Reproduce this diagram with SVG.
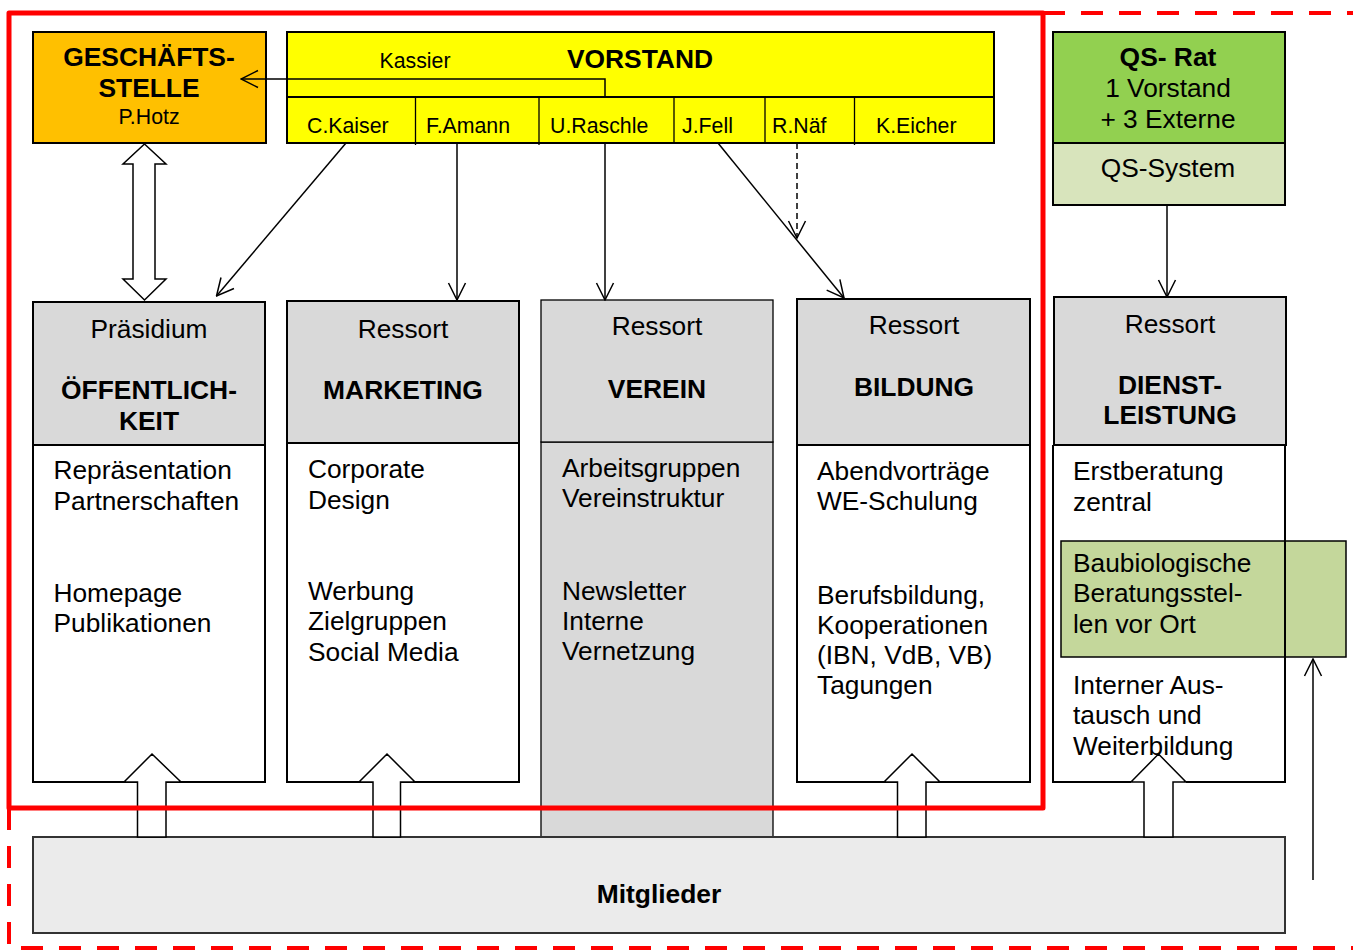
<svg xmlns="http://www.w3.org/2000/svg" width="1353" height="950" viewBox="0 0 1353 950">
<defs>
<style>
.t{font-family:"Liberation Sans",Arial,sans-serif;fill:#000}
.n{font-size:26.3px}
.b{font-size:26.4px;font-weight:bold}
.s{font-size:21.3px}
.c{text-anchor:middle}
.box{stroke:#000;stroke-width:2}
.thin{stroke:#000;stroke-width:1.3}
.conn{stroke:#000;stroke-width:1.5;fill:none}
.blk{fill:#fff;stroke:#000;stroke-width:1.5}
.hdr{fill:#D9D9D9}
</style>
<marker id="ah" markerUnits="userSpaceOnUse" markerWidth="20" markerHeight="20" viewBox="0 0 20 20" refX="19" refY="10" orient="auto">
<path d="M2,1.5 L19,10 L2,18.5" fill="none" stroke="#000" stroke-width="1.5"/>
</marker>
</defs>
<rect width="1353" height="950" fill="#fff"/>

<g id="geschaeftsstelle">
<rect x="33" y="32" width="233" height="111" fill="#FFC000" class="box"/>
<text class="t b c" x="149" y="66">GESCHÄFTS-</text>
<text class="t b c" x="149" y="97">STELLE</text>
<text class="t s c" x="149" y="123.5">P.Hotz</text>
</g>

<g id="vorstand">
<rect x="287" y="32" width="707" height="111" fill="#FFFF00" class="box"/>
<line x1="287" y1="97" x2="994" y2="97" class="box"/>
<line x1="415.5" y1="97" x2="415.5" y2="145" class="thin"/>
<line x1="539" y1="97" x2="539" y2="145" class="thin"/>
<line x1="674" y1="97" x2="674" y2="143" class="thin"/>
<line x1="765" y1="97" x2="765" y2="143" class="thin"/>
<line x1="854.5" y1="97" x2="854.5" y2="145" class="thin"/>
<text class="t s c" x="415" y="68">Kassier</text>
<text class="t b c" x="640" y="68">VORSTAND</text>
<text class="t s" x="307" y="133">C.Kaiser</text>
<text class="t s" x="426" y="133">F.Amann</text>
<text class="t s" x="550" y="133">U.Raschle</text>
<text class="t s" x="682" y="133">J.Fell</text>
<text class="t s" x="772" y="133">R.Näf</text>
<text class="t s" x="876" y="133">K.Eicher</text>
</g>

<g id="qs-rat">
<rect x="1053" y="32" width="232" height="111" fill="#92D050" class="box"/>
<rect x="1053" y="143" width="232" height="62" fill="#D8E4BC" class="box"/>
<text class="t b c" x="1168" y="66">QS- Rat</text>
<text class="t n c" x="1168" y="97">1 Vorstand</text>
<text class="t n c" x="1168" y="128">+ 3 Externe</text>
<text class="t n c" x="1168" y="177">QS-System</text>
</g>

<g id="praesidium">
<rect x="33" y="445" width="232" height="337" fill="#fff" class="box"/>
<rect x="33" y="302" width="232" height="143" class="hdr box"/>
<text class="t n c" x="149" y="338">Präsidium</text>
<text class="t b c" x="149" y="399">ÖFFENTLICH-</text>
<text class="t b c" x="149" y="429.5">KEIT</text>
<text class="t n" x="53.5" y="478.5">Repräsentation</text>
<text class="t n" x="53.5" y="510">Partnerschaften</text>
<text class="t n" x="53.5" y="602">Homepage</text>
<text class="t n" x="53.5" y="632">Publikationen</text>
</g>

<g id="marketing">
<rect x="287" y="443" width="232" height="339" fill="#fff" class="box"/>
<rect x="287" y="301" width="232" height="142" class="hdr box"/>
<text class="t n c" x="403" y="338">Ressort</text>
<text class="t b c" x="403" y="399">MARKETING</text>
<text class="t n" x="308" y="477.5">Corporate</text>
<text class="t n" x="308" y="508.5">Design</text>
<text class="t n" x="308" y="600">Werbung</text>
<text class="t n" x="308" y="630">Zielgruppen</text>
<text class="t n" x="308" y="661">Social Media</text>
</g>

<g id="verein">
<rect x="541" y="442" width="232" height="395" class="hdr thin"/>
<rect x="541" y="300" width="232" height="142" class="hdr thin"/>
<text class="t n c" x="657" y="335">Ressort</text>
<text class="t b c" x="657" y="397.5">VEREIN</text>
<text class="t n" x="562" y="477">Arbeitsgruppen</text>
<text class="t n" x="562" y="507">Vereinstruktur</text>
<text class="t n" x="562" y="599.5">Newsletter</text>
<text class="t n" x="562" y="629.5">Interne</text>
<text class="t n" x="562" y="659.5">Vernetzung</text>
</g>

<g id="bildung">
<rect x="797" y="445" width="233" height="337" fill="#fff" class="box"/>
<rect x="797" y="299" width="233" height="146" class="hdr box"/>
<text class="t n c" x="914" y="333.5">Ressort</text>
<text class="t b c" x="914" y="396">BILDUNG</text>
<text class="t n" x="817" y="479.5">Abendvorträge</text>
<text class="t n" x="817" y="510">WE-Schulung</text>
<text class="t n" x="817" y="603.5">Berufsbildung,</text>
<text class="t n" x="817" y="633.5">Kooperationen</text>
<text class="t n" x="817" y="663.5">(IBN, VdB, VB)</text>
<text class="t n" x="817" y="693.5">Tagungen</text>
</g>

<g id="mitglieder">
<rect x="33" y="837" width="1252" height="96" fill="#EBEBEB" stroke="#333" stroke-width="2"/>
<text class="t b c" x="659" y="903">Mitglieder</text>
</g>

<g id="connectors">
<polyline points="605,97 605,79 241,79" class="conn" marker-end="url(#ah)"/>
<line x1="346" y1="143" x2="216.5" y2="296" class="conn" marker-end="url(#ah)"/>
<line x1="457" y1="143" x2="457" y2="300" class="conn" marker-end="url(#ah)"/>
<line x1="605" y1="143" x2="605" y2="300" class="conn" marker-end="url(#ah)"/>
<line x1="718" y1="143" x2="844" y2="298" class="conn" marker-end="url(#ah)"/>
<line x1="797" y1="143" x2="797" y2="238" class="conn" stroke-dasharray="6 4" marker-end="url(#ah)"/>
<line x1="1167" y1="205" x2="1167" y2="297" class="conn" marker-end="url(#ah)"/>
<line x1="1313" y1="880" x2="1313" y2="659" class="conn" marker-end="url(#ah)"/>
<polygon points="144.5,144 166,164 155,164 155,279 166,279 144.5,300 123,279 133,279 133,164 123,164" class="blk"/>
<polygon points="152,754 181,782 166,782 166,837 137.5,837 137.5,782 124,782" class="blk"/>
<polygon points="387,754 415,782 400.5,782 400.5,837 373,837 373,782 359,782" class="blk"/>
<polygon points="912,754 940,782 926,782 926,837 897.5,837 897.5,782 884,782" class="blk"/>
<polygon points="1158.5,754 1186,782 1173,782 1173,837 1144,837 1144,782 1131,782" class="blk"/>
</g>

<g id="baubiologie">
<rect x="1061" y="541" width="285" height="116" fill="#C4D79B" stroke="#000" stroke-width="1.5"/>
<text class="t n" x="1073" y="572">Baubiologische</text>
<text class="t n" x="1073" y="602">Beratungsstel-</text>
<text class="t n" x="1073" y="633">len vor Ort</text>
</g>

<g id="dienstleistung">
<path d="M1131,782 H1053 V445 M1285,445 V782 H1186" fill="none" class="box"/>
<rect x="1054" y="297" width="232" height="148" class="hdr box"/>
<text class="t n c" x="1170" y="333">Ressort</text>
<text class="t b c" x="1170" y="393.5">DIENST-</text>
<text class="t b c" x="1170" y="424">LEISTUNG</text>
<text class="t n" x="1073" y="480">Erstberatung</text>
<text class="t n" x="1073" y="511">zentral</text>
<text class="t n" x="1073" y="694">Interner Aus-</text>
<text class="t n" x="1073" y="724">tausch und</text>
<text class="t n" x="1073" y="755">Weiterbildung</text>
</g>

<g id="frames">
<rect x="9" y="13" width="1034" height="795" fill="none" stroke="#FF0000" stroke-width="5" stroke-linejoin="round"/>
<path d="M1043,13 H1353 M9,808 V948 H1353" fill="none" stroke="#FF0000" stroke-width="4" stroke-dasharray="22 16"/>
</g>
</svg>
